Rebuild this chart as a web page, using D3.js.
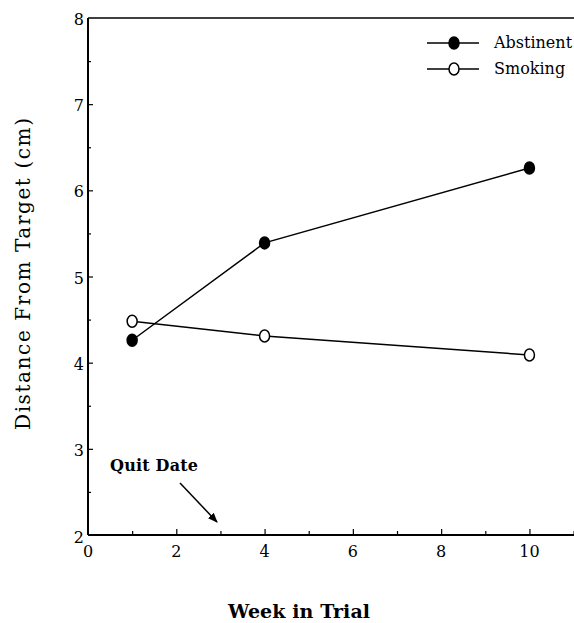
<!DOCTYPE html>
<html>
<head>
<meta charset="utf-8">
<script src="https://cdn.jsdelivr.net/npm/d3@7"></script>
<style>
  body { margin: 0; background: #fff; }
  svg { display: block; }
  text { font-family: "DejaVu Serif", "Liberation Serif", serif; fill: #000; }
</style>
</head>
<body>
<svg id="chart" width="574" height="623"></svg>
<script>
// data
const weeks = [1, 4, 10];
const abstinent = [4.26, 5.39, 6.26];
const smoking = [4.48, 4.31, 4.09];
const seriesNames = ["Abstinent", "Smoking"];
const xTicks = [0, 2, 4, 6, 8, 10];
const yTicks = [2, 3, 4, 5, 6, 7, 8];

const svg = d3.select("#chart");

const x = d3.scaleLinear().domain([0, 11.1]).range([88, 578]);
const y = d3.scaleLinear().domain([2, 8]).range([535, 18]);

// frame: left axis, bottom axis, top border
const frame = svg.append("g").attr("stroke", "#000").attr("fill", "none");
frame.append("line").attr("x1", x(0)).attr("x2", x(0)).attr("y1", y(8)).attr("y2", y(2)).attr("stroke-width", 2);
frame.append("line").attr("x1", x(0)).attr("x2", 574).attr("y1", y(2)).attr("y2", y(2)).attr("stroke-width", 2);
frame.append("line").attr("x1", x(0)).attr("x2", 574).attr("y1", y(8)).attr("y2", y(8)).attr("stroke-width", 1.5);

// x axis, ticks pointing inward
const xAxis = svg.append("g")
    .attr("transform", `translate(0,${y(2)})`)
    .call(d3.axisTop(x).tickValues(d3.range(1, 12)).tickSize(5).tickFormat(""));
xAxis.select(".domain").remove();
xAxis.selectAll(".tick line").attr("stroke-width", 1.2)
    .attr("y2", d => d % 2 === 0 ? -6 : -4);

svg.append("g").selectAll("text")
    .data(xTicks)
    .enter()
    .append("text")
    .attr("x", d => x(d))
    .attr("y", y(2) + 22)
    .attr("text-anchor", "middle")
    .attr("font-size", 16)
    .text(d => d);

// y axis, ticks pointing inward
const yAxis = svg.append("g")
    .attr("transform", `translate(${x(0)},0)`)
    .call(d3.axisRight(y).tickValues(d3.range(2.5, 8, 0.5)).tickSize(5).tickFormat(""));
yAxis.select(".domain").remove();
yAxis.selectAll(".tick line").attr("stroke-width", 1.2)
    .attr("x2", d => Number.isInteger(d) ? 5 : 3);

svg.append("g").selectAll("text")
    .data(yTicks)
    .enter()
    .append("text")
    .attr("x", x(0) - 4)
    .attr("y", d => y(d) + (d === 2 ? 8 : 7))
    .attr("text-anchor", "end")
    .attr("font-size", 16)
    .text(d => d);

// lines
const line = d3.line().x(d => x(d[0])).y(d => y(d[1]));
const series = [
    { name: seriesNames[0], values: weeks.map((w, i) => [w, abstinent[i]]), fill: "#000" },
    { name: seriesNames[1], values: weeks.map((w, i) => [w, smoking[i]]), fill: "#fff" }
];

series.forEach(s => {
    svg.append("path")
        .datum(s.values)
        .attr("d", line)
        .attr("fill", "none")
        .attr("stroke", "#000")
        .attr("stroke-width", 1.5);
    svg.append("g").selectAll("ellipse")
        .data(s.values)
        .enter()
        .append("ellipse")
        .attr("cx", d => x(d[0]))
        .attr("cy", d => y(d[1]))
        .attr("rx", 5)
        .attr("ry", 6)
        .attr("fill", s.fill)
        .attr("stroke", "#000")
        .attr("stroke-width", 1.5);
});

// legend
const legend = svg.append("g");
series.forEach((s, i) => {
    const ly = 43 + i * 26;
    legend.append("line").attr("x1", 427).attr("x2", 479).attr("y1", ly).attr("y2", ly)
        .attr("stroke", "#000").attr("stroke-width", 1.5);
    legend.append("ellipse").attr("cx", 454).attr("cy", ly).attr("rx", 5).attr("ry", 6)
        .attr("fill", s.fill).attr("stroke", "#000").attr("stroke-width", 1.5);
    legend.append("text").attr("x", 494).attr("y", ly + 5).attr("font-size", 16).text(s.name);
});

// quit date annotation
svg.append("defs").append("marker")
    .attr("id", "arrow")
    .attr("viewBox", "0 0 10 10")
    .attr("refX", 9).attr("refY", 5)
    .attr("markerWidth", 10).attr("markerHeight", 10)
    .attr("markerUnits", "userSpaceOnUse")
    .attr("orient", "auto")
    .append("path").attr("d", "M0,1 L10,5 L0,9 Z").attr("fill", "#000");

svg.append("text")
    .attr("x", 110).attr("y", 471)
    .attr("font-size", 16).attr("font-weight", "bold")
    .attr("textLength", 88)
    .text("Quit Date");

svg.append("line")
    .attr("x1", 180).attr("y1", 483).attr("x2", 217).attr("y2", 522)
    .attr("stroke", "#000").attr("stroke-width", 1.5)
    .attr("marker-end", "url(#arrow)");

// axis titles
svg.append("text")
    .attr("x", 299).attr("y", 618)
    .attr("text-anchor", "middle")
    .attr("font-size", 19).attr("font-weight", "bold")
    .attr("textLength", 142)
    .text("Week in Trial");

svg.append("text")
    .attr("transform", "translate(30,274) rotate(-90)")
    .attr("text-anchor", "middle")
    .attr("font-size", 20)
    .attr("textLength", 312)
    .text("Distance From Target (cm)");
</script>
</body>
</html>
